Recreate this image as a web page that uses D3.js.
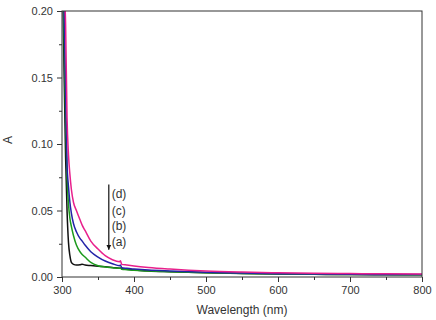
<!DOCTYPE html>
<html>
<head>
<meta charset="utf-8">
<script src="https://cdn.jsdelivr.net/npm/d3@7"></script>
<style>
  body { margin: 0; background: #fff; }
  text { font-family: "Liberation Sans", Arial, sans-serif; fill: #333; }
</style>
</head>
<body>
<div class="container"></div>
<script>
// wavelengths (nm) shared by all spectra
const wavelengths = [300, 303, 305, 307, 309, 311, 313, 316, 320, 325, 328, 332, 340, 350, 360, 370, 380, 381, 383, 390, 400, 420, 450, 500, 550, 600, 650, 700, 750, 800]

// absorbance values
const seriesA = [0.26, 0.15, 0.09, 0.05, 0.026, 0.016, 0.011, 0.0095, 0.009, 0.0092, 0.0096, 0.009, 0.0086, 0.0081, 0.0077, 0.0072, 0.0066, 0.0067, 0.0062, 0.0058, 0.0053, 0.0046, 0.004, 0.0032, 0.0026, 0.0022, 0.002, 0.0018, 0.0017, 0.0016]
const seriesB = [0.27, 0.18, 0.12, 0.075, 0.055, 0.044, 0.038, 0.031, 0.024, 0.019, 0.017, 0.015, 0.011, 0.0085, 0.0075, 0.007, 0.0065, 0.0068, 0.0058, 0.0055, 0.005, 0.0045, 0.004, 0.0032, 0.0027, 0.0023, 0.002, 0.0019, 0.0018, 0.0017]
const seriesC = [0.28, 0.20, 0.14, 0.085, 0.068, 0.056, 0.048, 0.040, 0.034, 0.029, 0.027, 0.024, 0.019, 0.015, 0.012, 0.010, 0.0085, 0.009, 0.007, 0.0065, 0.006, 0.0052, 0.0045, 0.0036, 0.003, 0.0025, 0.0022, 0.002, 0.0019, 0.0018]
const seriesD = [0.30, 0.22, 0.19, 0.12, 0.092, 0.077, 0.066, 0.056, 0.050, 0.043, 0.039, 0.035, 0.027, 0.021, 0.016, 0.013, 0.0115, 0.0122, 0.0095, 0.009, 0.0083, 0.0072, 0.006, 0.0045, 0.0037, 0.0032, 0.0028, 0.0026, 0.0024, 0.0023]

const seriesNames = ["(a)", "(b)", "(c)", "(d)"]
const seriesColors = ["#111111", "#1c9a1c", "#2323a8", "#e8208c"]

const xTicks = [300, 400, 500, 600, 700, 800]
const yTicks = [0.00, 0.05, 0.10, 0.15, 0.20]

let outerWidth = 436
let outerHeight = 320
let margin = {top: 11, bottom: 43, left: 62, right: 14}
let width = outerWidth - margin.left - margin.right
let height = outerHeight - margin.top - margin.bottom

const svg = d3.select(".container")
    .append("svg")
    .attr("width", outerWidth)
    .attr("height", outerHeight)

const g = svg.append("g")
    .attr("transform", `translate(${margin.left}, ${margin.top})`)

const x = d3.scaleLinear().domain([300, 800]).range([0, width])
const y = d3.scaleLinear().domain([0, 0.2]).range([height, 0])

g.append("clipPath")
    .attr("id", "plot-clip")
    .append("rect")
    .attr("width", width)
    .attr("height", height)

// Spectra, drawn (a) first so (d) sits on top
const allSeries = [seriesA, seriesB, seriesC, seriesD]
const line = d3.line()
    .x(d => x(d[0]))
    .y(d => y(d[1]))
    .curve(d3.curveMonotoneX)

g.append("g")
    .attr("clip-path", "url(#plot-clip)")
    .selectAll("path")
    .data(allSeries)
    .join("path")
    .attr("d", s => line(wavelengths.map((w, i) => [w, s[i]])))
    .attr("fill", "none")
    .attr("stroke", (s, i) => seriesColors[i])
    .attr("stroke-width", 1.5)

// Axes
const xAxis = g.append("g")
    .attr("transform", `translate(0, ${height})`)
    .call(d3.axisBottom(x).tickValues(xTicks).tickFormat(d3.format("d")).tickSize(5).tickPadding(4))
xAxis.append("g")
    .call(d3.axisBottom(x).tickValues(d3.range(350, 800, 100)).tickFormat("").tickSize(3))

const yAxis = g.append("g")
    .call(d3.axisLeft(y).tickValues(yTicks).tickFormat(d3.format(".2f")).tickSize(5).tickPadding(4))
yAxis.append("g")
    .call(d3.axisLeft(y).tickValues([0.025, 0.075, 0.125, 0.175]).tickFormat("").tickSize(3))

g.selectAll(".domain").remove()
g.selectAll(".tick line").attr("stroke", "#333")
g.selectAll(".tick text").attr("font-size", 11).attr("fill", "#333")

// Frame
g.append("rect")
    .attr("width", width)
    .attr("height", height)
    .attr("fill", "none")
    .attr("stroke", "#333")
    .attr("stroke-width", 1)

// Axis titles
svg.append("text")
    .attr("x", margin.left + width / 2)
    .attr("y", 314)
    .attr("text-anchor", "middle")
    .attr("font-size", 12)
    .text("Wavelength (nm)")

svg.append("text")
    .attr("transform", `translate(12, ${margin.top + height / 2 - 4}) rotate(-90)`)
    .attr("text-anchor", "middle")
    .attr("font-size", 12)
    .text("A")

// Arrow annotation (d) -> (a)
svg.append("defs").append("marker")
    .attr("id", "arrowhead")
    .attr("viewBox", "0 0 10 10")
    .attr("refX", 10)
    .attr("refY", 5)
    .attr("markerWidth", 5)
    .attr("markerHeight", 7)
    .attr("markerUnits", "userSpaceOnUse")
    .attr("orient", "auto")
    .append("path")
    .attr("d", "M0,0L10,5L0,10Z")
    .attr("fill", "#111")

g.append("line")
    .attr("x1", x(365))
    .attr("x2", x(365))
    .attr("y1", y(0.0695))
    .attr("y2", y(0.0205))
    .attr("stroke", "#111")
    .attr("stroke-width", 1.2)
    .attr("marker-end", "url(#arrowhead)")

const labelBase = [0.0594, 0.0468, 0.0353, 0.0235]
g.selectAll(".series-label")
    .data(seriesNames.slice().reverse())
    .join("text")
    .attr("class", "series-label")
    .attr("x", x(369))
    .attr("y", (d, i) => y(labelBase[i]))
    .attr("font-size", 12)
    .text(d => d)
</script>
</body>
</html>
